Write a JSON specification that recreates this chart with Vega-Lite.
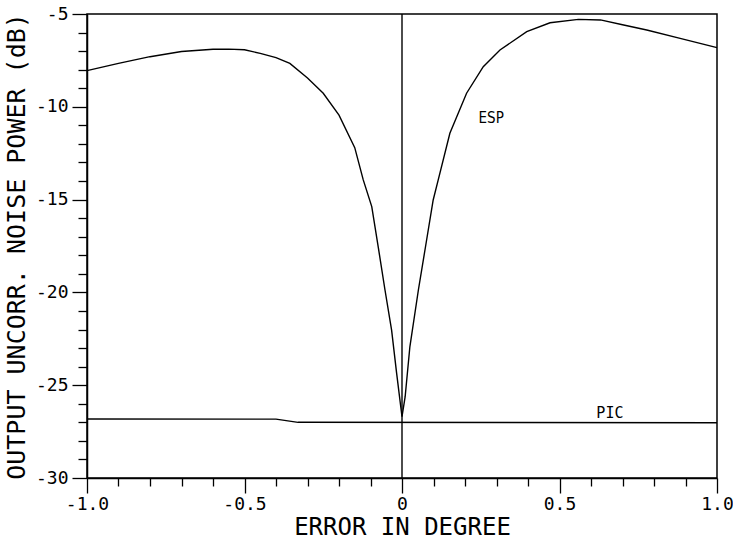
{
  "$schema": "https://vega.github.io/schema/vega-lite/v6.json",
  "width": 630,
  "height": 464,
  "autosize": "none",
  "padding": {"left": 87, "top": 14, "right": 16, "bottom": 63},
  "background": "white",
  "config": {
    "view": {"stroke": "black", "strokeWidth": 1.5},
    "font": "DejaVu Sans Mono"
  },
  "datasets": {
    "esp": [
      {"error": -1.0, "power": -8.05},
      {"error": -0.9, "power": -7.66},
      {"error": -0.8, "power": -7.3},
      {"error": -0.7, "power": -7.02},
      {"error": -0.6, "power": -6.9},
      {"error": -0.55, "power": -6.89},
      {"error": -0.5, "power": -6.93},
      {"error": -0.45, "power": -7.12},
      {"error": -0.4, "power": -7.35},
      {"error": -0.356, "power": -7.66},
      {"error": -0.3, "power": -8.45},
      {"error": -0.25, "power": -9.27},
      {"error": -0.2, "power": -10.45},
      {"error": -0.15, "power": -12.2},
      {"error": -0.123, "power": -13.94},
      {"error": -0.096, "power": -15.38},
      {"error": -0.075, "power": -17.6},
      {"error": -0.054, "power": -19.87},
      {"error": -0.033, "power": -22.03},
      {"error": -0.017, "power": -24.36},
      {"error": 0.0, "power": -26.7},
      {"error": 0.01, "power": -25.62},
      {"error": 0.025, "power": -22.93},
      {"error": 0.052, "power": -19.87},
      {"error": 0.075, "power": -17.5},
      {"error": 0.099, "power": -15.02},
      {"error": 0.115, "power": -13.94},
      {"error": 0.152, "power": -11.43},
      {"error": 0.205, "power": -9.27},
      {"error": 0.258, "power": -7.84},
      {"error": 0.311, "power": -6.94},
      {"error": 0.396, "power": -5.95},
      {"error": 0.47, "power": -5.47},
      {"error": 0.56, "power": -5.29},
      {"error": 0.63, "power": -5.32},
      {"error": 0.7, "power": -5.58},
      {"error": 0.777, "power": -5.86},
      {"error": 0.883, "power": -6.31},
      {"error": 1.0, "power": -6.81}
    ],
    "pic": [
      {"error": -1.0, "power": -26.82},
      {"error": -0.4, "power": -26.83},
      {"error": -0.33, "power": -27.0},
      {"error": 1.0, "power": -27.02}
    ]
  },
  "layer": [
    {
      "data": {"name": "esp"},
      "mark": {"type": "line", "color": "black", "strokeWidth": 1.4},
      "encoding": {
        "x": {
          "field": "error",
          "type": "quantitative",
          "scale": {"domain": [-1, 1], "nice": false, "zero": false},
          "axis": {
            "title": "ERROR IN DEGREE",
            "values": [-1, -0.9, -0.8, -0.7, -0.6, -0.5, -0.4, -0.3, -0.2, -0.1, 0, 0.1, 0.2, 0.3, 0.4, 0.5, 0.6, 0.7, 0.8, 0.9, 1],
            "tickCount": 200,
            "grid": false,
            "domainColor": "black",
            "domainWidth": 1.5,
            "tickColor": "black",
            "tickWidth": 1.3,
            "tickSize": {"condition": {"test": "abs(datum.value*2 - round(datum.value*2)) < 0.001", "value": 15}, "value": 8},
            "labelExpr": "abs(datum.value*2 - round(datum.value*2)) < 0.001 ? (datum.value == 0 ? '0' : replace(format(datum.value, '.1f'), '\u2212', '-')) : ''",
            "labelFont": "DejaVu Sans Mono",
            "labelFontSize": 18,
            "labelColor": "black",
            "labelPadding": 2,
            "labelFlush": false,
            "labelOverlap": false,
            "labelBound": false,
            "titleFont": "DejaVu Sans Mono",
            "titleFontSize": 24,
            "titleFontWeight": "normal",
            "titleColor": "black",
            "titlePadding": 2
          }
        },
        "y": {
          "field": "power",
          "type": "quantitative",
          "scale": {"domain": [-30, -5], "nice": false, "zero": false},
          "axis": {
            "title": "OUTPUT UNCORR. NOISE POWER (dB)",
            "values": [-30, -29, -28, -27, -26, -25, -24, -23, -22, -21, -20, -19, -18, -17, -16, -15, -14, -13, -12, -11, -10, -9, -8, -7, -6, -5],
            "tickCount": 200,
            "grid": false,
            "domainColor": "black",
            "domainWidth": 1.5,
            "tickColor": "black",
            "tickWidth": 1.3,
            "tickSize": {"condition": {"test": "datum.value % 5 == 0", "value": 15}, "value": 9},
            "labelExpr": "datum.value % 5 == 0 ? '' + datum.value : ''",
            "labelFont": "DejaVu Sans Mono",
            "labelFontSize": 18,
            "labelColor": "black",
            "labelPadding": 4,
            "labelFlush": false,
            "labelOverlap": false,
            "labelBound": false,
            "titleFont": "DejaVu Sans Mono",
            "titleFontSize": 25,
            "titleFontWeight": "normal",
            "titleColor": "black",
            "titlePadding": 6
          }
        }
      }
    },
    {
      "data": {"name": "pic"},
      "mark": {"type": "line", "color": "black", "strokeWidth": 1.4},
      "encoding": {
        "x": {"field": "error", "type": "quantitative"},
        "y": {"field": "power", "type": "quantitative"}
      }
    },
    {
      "data": {"values": [{"error": 0}]},
      "mark": {"type": "rule", "color": "black", "strokeWidth": 1.4},
      "encoding": {"x": {"field": "error", "type": "quantitative"}}
    },
    {
      "data": {"values": [{"error": 0.283, "power": -10.87, "label": "ESP"}]},
      "mark": {"type": "text", "font": "DejaVu Sans Condensed, Roboto, sans-serif", "fontSize": 15, "color": "black", "align": "center", "baseline": "alphabetic"},
      "encoding": {
        "x": {"field": "error", "type": "quantitative"},
        "y": {"field": "power", "type": "quantitative"},
        "text": {"field": "label"}
      }
    },
    {
      "data": {"values": [{"error": 0.66, "power": -26.77, "label": "PIC"}]},
      "mark": {"type": "text", "font": "DejaVu Sans Mono", "fontSize": 15, "color": "black", "align": "center", "baseline": "alphabetic"},
      "encoding": {
        "x": {"field": "error", "type": "quantitative"},
        "y": {"field": "power", "type": "quantitative"},
        "text": {"field": "label"}
      }
    }
  ]
}
